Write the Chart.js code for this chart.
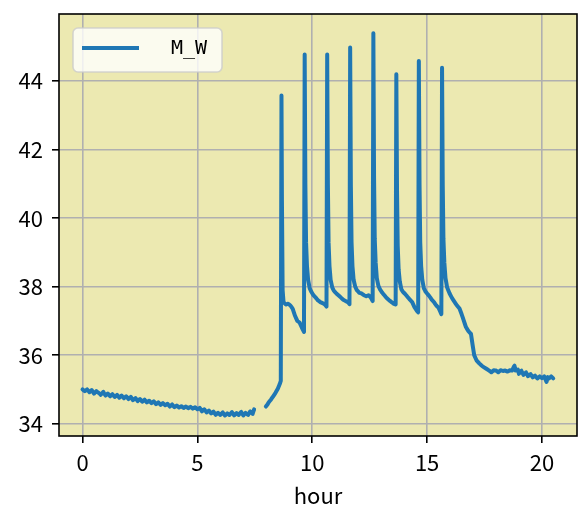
<!DOCTYPE html>
<html>
<head>
<meta charset="utf-8">
<script src="https://cdn.jsdelivr.net/npm/chart.js@4/dist/chart.umd.min.js"></script>
<style>
  body { margin: 0; background: #fff; }
  canvas { display: block; }
</style>
</head>
<body>
<canvas id="chart" width="579" height="515"></canvas>
<script>
// hour readings, null marks the logging gap around 7.7 h
const hours = [
  0.0, 0.1, 0.2, 0.3, 0.4, 0.5, 0.6, 0.7, 0.8, 0.9,
  1.0, 1.1, 1.2, 1.3, 1.4, 1.5, 1.6, 1.7, 1.8, 1.9,
  2.0, 2.1, 2.2, 2.3, 2.4, 2.5, 2.6, 2.7, 2.8, 2.9,
  3.0, 3.1, 3.2, 3.3, 3.4, 3.5, 3.6, 3.7, 3.8, 3.9,
  4.0, 4.1, 4.2, 4.3, 4.4, 4.5, 4.6, 4.7, 4.8, 4.9,
  5.0, 5.1, 5.2, 5.3, 5.4, 5.5, 5.6, 5.7, 5.8, 5.9,
  6.0, 6.1, 6.2, 6.3, 6.4, 6.5, 6.6, 6.7, 6.8, 6.9,
  7.0, 7.1, 7.2, 7.3, 7.4, 7.47, 7.7,
  7.98, 8.05, 8.1, 8.2, 8.3, 8.4, 8.5, 8.58, 8.63,
  8.66, 8.68, 8.71, 8.75, 8.85, 8.95, 9.05, 9.15, 9.25, 9.35, 9.45, 9.55, 9.64,
  9.67, 9.70, 9.73, 9.77, 9.82, 9.89, 9.96, 10.05, 10.15, 10.25, 10.35, 10.45, 10.55, 10.62,
  10.65, 10.68, 10.71, 10.75, 10.80, 10.87, 10.94, 11.05, 11.15, 11.25, 11.35, 11.45, 11.55, 11.62,
  11.65, 11.68, 11.71, 11.75, 11.80, 11.87, 11.94, 12.05, 12.15, 12.25, 12.35, 12.45, 12.55, 12.63,
  12.66, 12.69, 12.72, 12.76, 12.81, 12.88, 12.95, 13.05, 13.15, 13.25, 13.35, 13.45, 13.55, 13.63,
  13.66, 13.69, 13.72, 13.76, 13.81, 13.88, 13.95, 14.05, 14.15, 14.25, 14.35, 14.45, 14.55, 14.61,
  14.64, 14.67, 14.70, 14.74, 14.79, 14.86, 14.93, 15.0, 15.1, 15.2, 15.3, 15.4, 15.5, 15.62,
  15.65, 15.68, 15.71, 15.75, 15.80, 15.87, 15.98, 16.1, 16.2, 16.3, 16.41, 16.5, 16.6, 16.69,
  16.8, 16.91, 16.98, 17.05, 17.15, 17.27, 17.4, 17.56, 17.7, 17.8, 17.9,
  18.0, 18.1, 18.2, 18.3, 18.4, 18.5, 18.6, 18.7, 18.8, 18.85, 18.95,
  19.0, 19.1, 19.2, 19.3, 19.4, 19.5, 19.6, 19.7, 19.8, 19.9,
  20.0, 20.1, 20.2, 20.25, 20.3, 20.4, 20.49
];

const mw = [
  35.00, 34.95, 35.00, 34.92, 34.98, 34.88, 34.95, 34.90, 34.84, 34.93,
  34.82, 34.88, 34.80, 34.86, 34.78, 34.84, 34.76, 34.82, 34.74, 34.80,
  34.72, 34.78, 34.68, 34.75, 34.66, 34.72, 34.64, 34.70, 34.62, 34.67,
  34.60, 34.65, 34.57, 34.62, 34.55, 34.60, 34.54, 34.58, 34.50, 34.56,
  34.48, 34.53, 34.47, 34.51, 34.46, 34.50, 34.45, 34.49, 34.44, 34.48,
  34.42, 34.46, 34.36, 34.42, 34.33, 34.38, 34.30, 34.35, 34.26, 34.32,
  34.25, 34.33, 34.24, 34.30, 34.25, 34.34, 34.24, 34.31, 34.25, 34.35,
  34.24, 34.32, 34.25, 34.36, 34.28, 34.42, null,
  34.50, 34.56, 34.62, 34.70, 34.80, 34.90, 35.02, 35.15, 35.25,
  43.58, 40.5, 37.9, 37.55, 37.48, 37.50, 37.45, 37.35, 37.15, 37.00, 36.95, 36.80, 36.68,
  44.78, 41.0, 39.3, 38.6, 38.2, 37.95, 37.85, 37.75, 37.68, 37.60, 37.55, 37.52, 37.48, 37.42,
  44.78, 41.0, 39.3, 38.6, 38.2, 37.98, 37.88, 37.80, 37.74, 37.68, 37.62, 37.58, 37.55, 37.49,
  44.98, 41.0, 39.3, 38.6, 38.2, 38.00, 37.90, 37.82, 37.80, 37.75, 37.72, 37.75, 37.68, 37.58,
  45.40, 41.2, 39.4, 38.7, 38.25, 38.02, 37.92, 37.82, 37.74, 37.66, 37.60, 37.55, 37.50, 37.48,
  44.20, 40.8, 39.2, 38.5, 38.15, 37.92, 37.85, 37.78, 37.70, 37.62, 37.55, 37.40, 37.30, 37.25,
  44.59, 41.0, 39.3, 38.6, 38.2, 37.95, 37.86, 37.80, 37.72, 37.62, 37.55, 37.45, 37.38, 37.20,
  44.39, 41.0, 39.4, 38.7, 38.25, 37.98, 37.80, 37.65, 37.55, 37.45, 37.36, 37.20, 37.00, 36.82,
  36.70, 36.62, 36.30, 36.00, 35.85, 35.76, 35.68, 35.61, 35.55, 35.50, 35.56,
  35.55, 35.50, 35.56, 35.54, 35.55, 35.52, 35.56, 35.55, 35.70, 35.55, 35.58,
  35.45, 35.55, 35.42, 35.50, 35.38, 35.45, 35.35, 35.40, 35.32, 35.38,
  35.33, 35.38, 35.22, 35.36, 35.32, 35.38, 35.32
];

const xTicks = [0, 5, 10, 15, 20];
const yTicks = [34, 36, 38, 40, 42, 44];

const tickFont = { family: '"Noto Sans CJK JP", "Noto Sans", sans-serif', size: 22 };

// background + frame of the plot area
const frame = {
  id: 'frame',
  beforeDraw(chart) {
    const { ctx, chartArea: a } = chart;
    ctx.save();
    ctx.fillStyle = 'rgb(236,233,177)';
    ctx.fillRect(a.left, a.top, a.right - a.left, a.bottom - a.top);
    ctx.restore();
  },
  afterDraw(chart) {
    const { ctx, chartArea: a } = chart;
    ctx.save();
    ctx.strokeStyle = '#000';
    ctx.lineWidth = 1.6;
    ctx.strokeRect(a.left, a.top, a.right - a.left, a.bottom - a.top);

    // legend box, upper left
    const x = a.left + 14, y = a.top + 14, w = 149, h = 44;
    ctx.fillStyle = 'rgba(255,255,255,0.8)';
    ctx.strokeStyle = 'rgba(204,204,204,0.8)';
    ctx.lineWidth = 1.6;
    ctx.beginPath();
    ctx.roundRect(x, y, w, h, 5);
    ctx.fill();
    ctx.stroke();
    ctx.strokeStyle = '#1f77b4';
    ctx.lineWidth = 4;
    ctx.beginPath();
    ctx.moveTo(x + 9, y + 20);
    ctx.lineTo(x + 66, y + 20);
    ctx.stroke();
    ctx.fillStyle = '#000';
    ctx.font = '20px "DejaVu Sans Mono", monospace';
    ctx.textBaseline = 'middle';
    ctx.textAlign = 'left';
    ctx.fillText(chart.data.datasets[0].label, x + 98, y + 21);
    ctx.restore();
  }
};

new Chart(document.getElementById('chart'), {
  type: 'line',
  data: {
    datasets: [{
      label: 'M_W',
      data: hours.map((h, i) => ({ x: h, y: mw[i] })),
      borderColor: '#1f77b4',
      borderWidth: 4,
      borderJoinStyle: 'round',
      borderCapStyle: 'round',
      pointRadius: 0,
      // tiny tension keeps the full path (no per-pixel fast path)
      tension: 0.001,
      spanGaps: false
    }]
  },
  options: {
    responsive: false,
    animation: false,
    devicePixelRatio: 1,
    layout: { padding: { top: 14, right: 2, left: 0, bottom: 0 } },
    plugins: { legend: { display: false }, tooltip: { enabled: false } },
    scales: {
      x: {
        type: 'linear',
        min: -1.025,
        max: 21.525,
        afterBuildTicks(scale) { scale.ticks = xTicks.map(v => ({ value: v })); },
        afterFit(scale) {
          scale.height = 79;
          scale.paddingLeft = 0;
          scale.paddingRight = 0;
        },
        grid: { color: '#b0b0b0', lineWidth: 1.6, tickColor: '#000', tickLength: 7, tickWidth: 1.6 },
        border: { display: false },
        ticks: { color: '#000', font: tickFont, padding: 6, maxRotation: 0 },
        title: { display: true, text: 'hour', color: '#000', font: tickFont, padding: { top: 0, bottom: 6 } }
      },
      y: {
        type: 'linear',
        min: 33.64,
        max: 45.96,
        afterBuildTicks(scale) { scale.ticks = yTicks.map(v => ({ value: v })); },
        afterFit(scale) {
          scale.width = 59;
          scale.paddingTop = 0;
          scale.paddingBottom = 0;
        },
        grid: { color: '#b0b0b0', lineWidth: 1.6, tickColor: '#000', tickLength: 7, tickWidth: 1.6 },
        border: { display: false },
        ticks: { color: '#000', font: tickFont, padding: 9 }
      }
    }
  },
  plugins: [frame]
});
</script>
</body>
</html>
